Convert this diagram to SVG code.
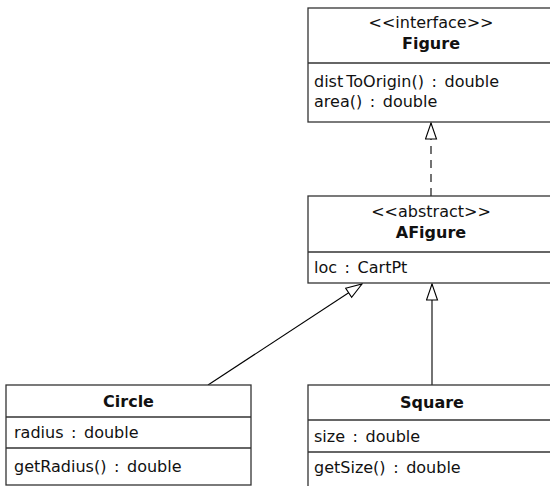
<svg xmlns="http://www.w3.org/2000/svg" width="550" height="486" viewBox="0 0 550 486">
<style>
.box{fill:#fff;stroke:#333;stroke-width:1.3}
.div{stroke:#333;stroke-width:1.3}
text{font-family:"DejaVu Sans","Liberation Sans",sans-serif;font-size:16px;fill:#111}
.m{word-spacing:2.5px}
.c{text-anchor:middle}
.b{font-weight:bold}
.edge{stroke:#000;stroke-width:1.1;fill:none}
.dash{stroke-dasharray:8,6}
</style>
<defs>
<marker id="tri" markerUnits="userSpaceOnUse" viewBox="0 0 18 13" markerWidth="18" markerHeight="13" refX="17" refY="6.5" orient="auto">
<path d="M1,1 L17,6.5 L1,12 Z" fill="#fff" stroke="#000" stroke-width="1.1"/>
</marker>
</defs>
<g id="connectors">
<line class="edge dash" x1="431" y1="196" x2="431" y2="123" marker-end="url(#tri)"/>
<line class="edge" x1="208" y1="385" x2="362" y2="284" marker-end="url(#tri)"/>
<line class="edge" x1="432" y1="385" x2="432" y2="284" marker-end="url(#tri)"/>
</g>
<g id="Figure">
<rect class="box" x="308" y="8" width="246" height="114"/>
<line class="div" x1="308" y1="63" x2="554" y2="63"/>
<text class="c" x="431" y="28">&lt;&lt;interface&gt;&gt;</text>
<text class="c b" x="431" y="49">Figure</text>
<text class="m" x="314" y="87">dist<tspan dx="3">ToOrigin() : double</tspan></text>
<text class="m" x="314" y="107">area() : double</text>
</g>
<g id="AFigure">
<rect class="box" x="308" y="196" width="246" height="87"/>
<line class="div" x1="308" y1="252" x2="554" y2="252"/>
<text class="c" x="431" y="217">&lt;&lt;abstract&gt;&gt;</text>
<text class="c b" x="431" y="238">AFigure</text>
<text class="m" x="314" y="273">loc : CartPt</text>
</g>
<g id="Circle">
<rect class="box" x="6" y="385" width="245" height="100"/>
<line class="div" x1="6" y1="417" x2="251" y2="417"/>
<line class="div" x1="6" y1="448" x2="251" y2="448"/>
<text class="c b" x="128.5" y="407">Circle</text>
<text class="m" x="14" y="438">radius : double</text>
<text class="m" x="14" y="472">getRadius() : double</text>
</g>
<g id="Square">
<rect class="box" x="308" y="385" width="248" height="110"/>
<line class="div" x1="308" y1="420" x2="556" y2="420"/>
<line class="div" x1="308" y1="452" x2="556" y2="452"/>
<text class="c b" x="432" y="408">Square</text>
<text class="m" x="314" y="442">size : double</text>
<text class="m" x="314" y="473">getSize() : double</text>
</g>
</svg>
